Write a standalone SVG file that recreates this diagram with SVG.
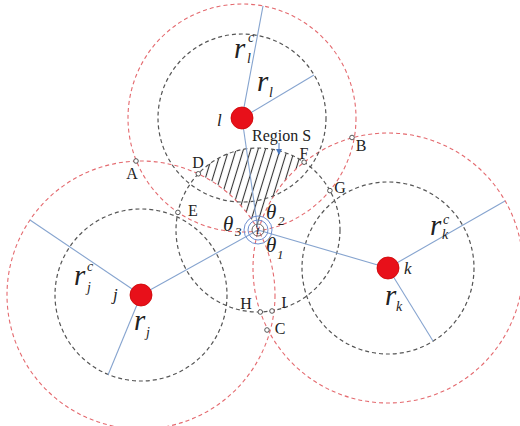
<svg xmlns="http://www.w3.org/2000/svg" width="520" height="426" viewBox="0 0 520 426">
<style>
.red{fill:none;stroke:#e46a6f;stroke-width:1.1;stroke-dasharray:4 3}
.blk{fill:none;stroke:#555;stroke-width:1.2;stroke-dasharray:4 3}
.ln{stroke:#86a4cf;stroke-width:1.1;fill:none}
.dot{fill:#e8101a;stroke:#c00;stroke-width:0.8}
.pt{fill:#fff;stroke:#444;stroke-width:0.9}
.lbl{font-family:"Liberation Serif",serif;font-size:16px;fill:#222}
.it{font-family:"Liberation Serif",serif;font-style:italic;fill:#222}
</style>
<defs>
<pattern id="hatch" width="7" height="7" patternUnits="userSpaceOnUse" patternTransform="rotate(17)">
<line x1="3.5" y1="0" x2="3.5" y2="7" stroke="#333" stroke-width="1.1"/>
</pattern>
<marker id="arr" markerWidth="6" markerHeight="6" refX="5" refY="3" orient="auto" markerUnits="userSpaceOnUse">
<path d="M0,0 L6,3 L0,6 Z" fill="#4a78c0"/>
</marker>
</defs>
<rect width="520" height="426" fill="#fff"/>

<g id="region-S">
<path d="M198.3,173.8 A82,82 0 0 1 304.1,162.2 A135,135 0 0 0 258,230 A134,134 0 0 0 198.3,173.8 Z" fill="url(#hatch)" stroke="none"/>
</g>

<g id="circles">
<circle class="red" cx="242" cy="118" r="114"/>
<circle class="red" cx="141" cy="295" r="134"/>
<circle class="red" cx="388" cy="268" r="135"/>
<circle class="blk" cx="242" cy="118" r="84"/>
<circle class="blk" cx="141" cy="295" r="86"/>
<circle class="blk" cx="388" cy="268" r="86"/>
<circle class="blk" cx="258" cy="230" r="82"/>
</g>

<g id="connectors">
<line class="ln" x1="242" y1="118" x2="263" y2="6"/>
<line class="ln" x1="242" y1="118" x2="314" y2="75"/>
<line class="ln" x1="242" y1="118" x2="258" y2="230"/>
<line class="ln" x1="141" y1="295" x2="30" y2="220"/>
<line class="ln" x1="141" y1="295" x2="108" y2="375"/>
<line class="ln" x1="141" y1="295" x2="258" y2="230"/>
<line class="ln" x1="388" y1="268" x2="505" y2="201"/>
<line class="ln" x1="388" y1="268" x2="433" y2="341"/>
<line class="ln" x1="388" y1="268" x2="258" y2="230"/>
<line x1="279" y1="143" x2="279" y2="154" stroke="#4a78c0" stroke-width="1" marker-end="url(#arr)"/>
</g>

<g id="node-l">
<circle class="dot" cx="242" cy="118" r="11"/>
<text class="it" x="217" y="126" font-size="17">l</text>
<text class="it" x="234" y="58" font-size="29">r</text>
<text class="it" x="248" y="42" font-size="14">c</text>
<text class="it" x="247" y="63" font-size="14">l</text>
<text class="it" x="257" y="91" font-size="29">r</text>
<text class="it" x="269" y="97" font-size="14">l</text>
</g>

<g id="node-j">
<circle class="dot" cx="141" cy="295" r="11"/>
<text class="it" x="113" y="300" font-size="17">j</text>
<text class="it" x="74" y="285" font-size="29">r</text>
<text class="it" x="87" y="271" font-size="14">c</text>
<text class="it" x="87" y="292" font-size="14">j</text>
<text class="it" x="134" y="330" font-size="29">r</text>
<text class="it" x="146" y="337" font-size="14">j</text>
</g>

<g id="node-k">
<circle class="dot" cx="388" cy="268" r="11"/>
<text class="it" x="404" y="274" font-size="17">k</text>
<text class="it" x="430" y="235" font-size="29">r</text>
<text class="it" x="443" y="224" font-size="14">c</text>
<text class="it" x="442" y="239" font-size="14">k</text>
<text class="it" x="385" y="305" font-size="29">r</text>
<text class="it" x="396" y="311" font-size="14">k</text>
</g>

<g id="node-i">
<circle cx="258" cy="230" r="6" fill="none" stroke="#666" stroke-width="1"/>
<circle cx="258" cy="230" r="10" fill="none" stroke="#6f8fd0" stroke-width="1"/>
<circle cx="258" cy="230" r="14" fill="none" stroke="#6f8fd0" stroke-width="1"/>
<text class="it" x="256" y="234" font-size="13">ı</text>
<text class="it" x="223" y="231" font-size="21">θ</text>
<text class="it" x="235" y="236" font-size="13">3</text>
<text class="it" x="266" y="219" font-size="21">θ</text>
<text class="it" x="278" y="225" font-size="13">2</text>
<text class="it" x="266" y="252" font-size="21">θ</text>
<text class="it" x="277" y="259" font-size="13">1</text>
</g>

<g id="points">
<circle class="pt" cx="136" cy="161" r="2.3"/>
<circle class="pt" cx="352" cy="137.5" r="2.3"/>
<circle class="pt" cx="267" cy="330" r="2.3"/>
<circle class="pt" cx="198.3" cy="173.8" r="2.3"/>
<circle class="pt" cx="177.9" cy="212.4" r="2.3"/>
<circle class="pt" cx="304.1" cy="162.2" r="2.3"/>
<circle class="pt" cx="329.9" cy="190.6" r="2.3"/>
<circle class="pt" cx="260.3" cy="312" r="2.3"/>
<circle class="pt" cx="272" cy="311" r="2.3"/>
<text class="lbl" x="132" y="179" text-anchor="middle">A</text>
<text class="lbl" x="361" y="151" text-anchor="middle">B</text>
<text class="lbl" x="280" y="334" text-anchor="middle">C</text>
<text class="lbl" x="198" y="168" text-anchor="middle">D</text>
<text class="lbl" x="193" y="216" text-anchor="middle">E</text>
<text class="lbl" x="304" y="159" text-anchor="middle">F</text>
<text class="lbl" x="340" y="193" text-anchor="middle">G</text>
<text class="lbl" x="246" y="309" text-anchor="middle">H</text>
<text class="lbl" x="284" y="308" text-anchor="middle">I</text>
<text class="lbl" x="252" y="141" font-size="16.5">Region S</text>
</g>
</svg>
